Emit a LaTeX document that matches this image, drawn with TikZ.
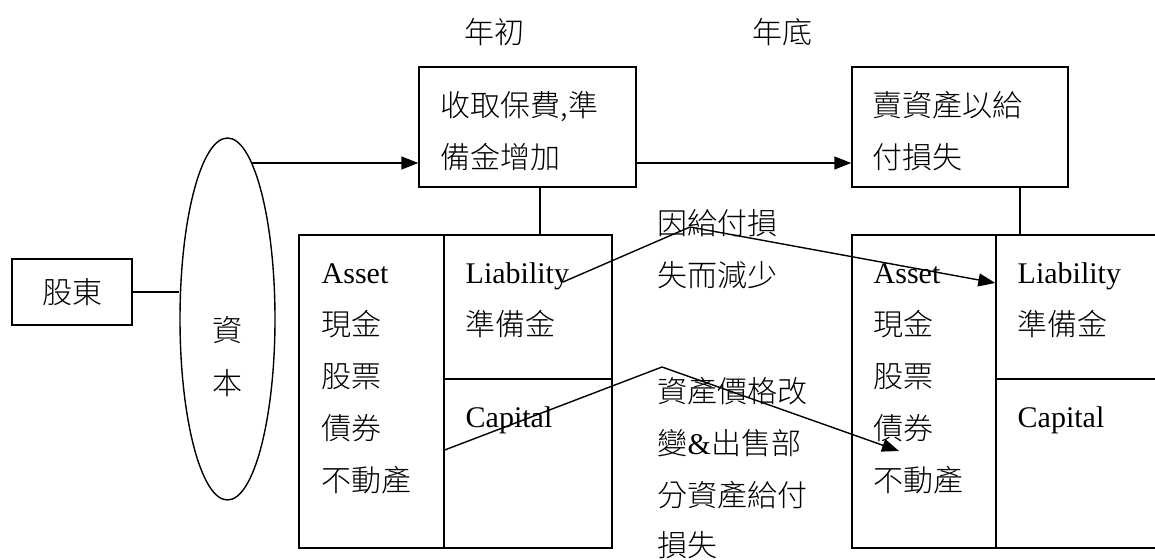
\documentclass[tikz,border=0pt]{standalone}
\usepackage{fontspec}
\setmainfont{Liberation Serif}
\newfontfamily\cjk{Noto Sans CJK TC Light}
\usetikzlibrary{arrows.meta,shapes.geometric}
\begin{document}
\begin{tikzpicture}[x=1pt,y=-1pt,line width=1.4pt,
  boxr/.style={draw,rectangle,inner sep=0pt},
  lat/.style={anchor=base west,inner sep=0pt,font=\fontsize{30}{36}\selectfont},
  cj/.style={anchor=base west,inner sep=0pt,font=\fontsize{30}{36}\selectfont\cjk},
  cjc/.style={anchor=base,inner sep=0pt,font=\fontsize{30}{36}\selectfont\cjk},
  arr/.style={-{Triangle[length=17pt,width=13pt]}}]
\useasboundingbox (0,0) rectangle (1155,559);
\fill[white] (0,0) rectangle (1155,559);
\clip (0,0) rectangle (1155,559);

% shapes
\node[boxr,minimum width=120pt,minimum height=66pt] (sh) at (72,292) {};
\node[draw,ellipse,inner sep=0pt,minimum width=95pt,minimum height=362pt] (cap) at (227.5,319) {};
\node[boxr,minimum width=217pt,minimum height=120pt] (b1) at (527.5,127) {};
\node[boxr,minimum width=216pt,minimum height=120pt] (b2) at (960,127) {};
\node[boxr,minimum width=145pt,minimum height=313pt] (aset1) at (371.5,391.5) {};
\node[boxr,minimum width=168pt,minimum height=144pt] (liab1) at (528,307) {};
\node[boxr,minimum width=168pt,minimum height=169pt] (capt1) at (528,463.5) {};
\node[boxr,minimum width=144pt,minimum height=313pt] (aset2) at (924,391.5) {};
\node[boxr,minimum width=179pt,minimum height=144pt] (liab2) at (1085.5,307) {};
\node[boxr,minimum width=179pt,minimum height=169pt] (capt2) at (1085.5,463.5) {};

% texts
\node[cjc] (t0) at (494,44) {年初};
\node[cjc] (t1) at (782,44) {年底};
\node[cjc] (tsh) at (72,303) {股東};
\node[cjc] (tc1) at (227,341) {資};
\node[cjc] (tc2) at (227,394) {本};
\node[cj] (tb1a) at (440,117) {收取保費,準};
\node[cj] (tb1b) at (440,168) {備金增加};
\node[cj] (tb2a) at (872,117) {賣資產以給};
\node[cj] (tb2b) at (872,168) {付損失};

\node[lat] (la1) at (321,283) {Asset};
\node[cj] (la2) at (321,335) {現金};
\node[cj] (la3) at (321,387) {股票};
\node[cj] (la4) at (321,439) {債券};
\node[cj] (la5) at (321,491) {不動產};
\node[lat] (ll1) at (465,283) {Liability};
\node[cj] (ll2) at (465,335) {準備金};
\node[lat] (lc1) at (465,427) {Capital};

\node[lat] (ra1) at (873,283) {Asset};
\node[cj] (ra2) at (873,335) {現金};
\node[cj] (ra3) at (873,387) {股票};
\node[cj] (ra4) at (873,439) {債券};
\node[cj] (ra5) at (873,491) {不動產};
\node[lat] (rl1) at (1017,283) {Liability};
\node[cj] (rl2) at (1017,335) {準備金};
\node[lat] (rc1) at (1017,427) {Capital};

\node[cj] (m1) at (657,234) {因給付損};
\node[cj] (m2) at (657,286) {失而減少};
\node[cj] (m3) at (657,402) {資產價格改};
\node[lat] (m4) at (657,454) {{\cjk 變}\&{\cjk 出售部}};
\node[cj] (m5) at (657,506) {分資產給付};
\node[cj] (m6) at (657,556) {損失};

% connectors
\coordinate (k1) at (540,0);
\coordinate (k2) at (1020,0);
\coordinate (p1) at (563,282);
\coordinate (q1) at (690,227);
\coordinate (q2) at (662,367);
\coordinate (p2) at (899,451);

\draw (sh.east) -- (sh.east -| cap.west);
\draw[arr] (cap.81) -- (cap.81 -| b1.west);
\draw[arr] ([yshift=-36pt]b1.east) -- ([yshift=-36pt]b2.west);
\draw (b1.south -| k1) -- (liab1.north -| k1);
\draw (b2.south -| k2) -- (liab2.north -| k2);
\draw[arr] (p1) -- (q1) -- ([yshift=24pt]liab2.west);
\draw[arr] ([yshift=-58.5pt]aset1.east) -- (q2) -- (p2);
\end{tikzpicture}
\end{document}
